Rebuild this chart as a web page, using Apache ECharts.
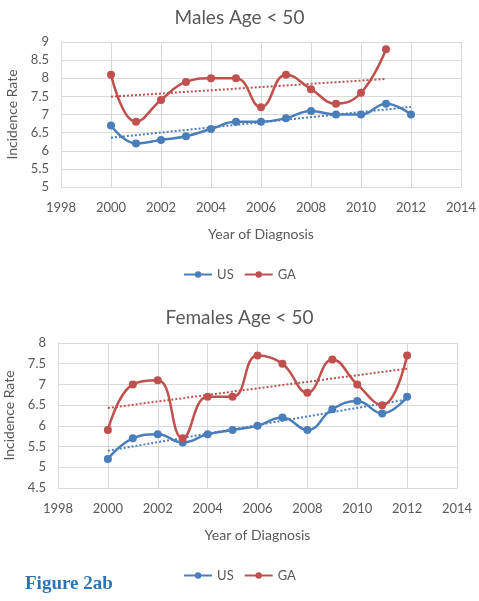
<!DOCTYPE html>
<html><head><meta charset="utf-8">
<script src="https://cdn.jsdelivr.net/npm/echarts@6/dist/echarts.min.js"></script>
<style>html,body{margin:0;padding:0;background:#fff}#c{width:479px;height:601px}</style>
</head><body><div id="c"></div>
<script>
const years = [2000,2001,2002,2003,2004,2005,2006,2007,2008,2009,2010,2011,2012];
const maleUS = [6.7,6.2,6.3,6.4,6.6,6.8,6.8,6.9,7.1,7.0,7.0,7.3,7.0];
const maleGA = [8.1,6.8,7.4,7.9,8.0,8.0,7.2,8.1,7.7,7.3,7.6,8.8];
const femaleUS = [5.2,5.7,5.8,5.6,5.8,5.9,6.0,6.2,5.9,6.4,6.6,6.3,6.7];
const femaleGA = [5.9,7.0,7.1,5.7,6.7,6.7,7.7,7.5,6.8,7.6,7.0,6.5,7.7];
// trendline endpoints: [year, value]
const maleUSTrend = [[2000,6.36],[2012,7.21]];
const maleGATrend = [[2000,7.49],[2011,7.98]];
const femaleUSTrend = [[2000,5.40],[2012,6.64]];
const femaleGATrend = [[2000,6.43],[2012,7.38]];
const titles = ['Males Age < 50','Females Age < 50'];
const xName = 'Year of Diagnosis';
const yName = 'Incidence Rate';

const BLUE = '#4a7ebb', RED = '#c0504d', GRAY = '#595959', GRID = '#d9d9d9';
const FONT = 'Lato';
const pair = (xs, ys) => ys.map((v,i)=>[xs[i], v]);

function xAxis(gi){
  return {type:'value', gridIndex:gi, min:1998, max:2014, interval:2,
    name:xName, nameLocation:'middle', nameGap:40,
    nameTextStyle:{color:GRAY, fontSize:14, fontFamily:FONT},
    axisLine:{show:true, lineStyle:{color:GRID}}, axisTick:{show:false},
    splitLine:{show:true, lineStyle:{color:GRID}},
    axisLabel:{color:GRAY, fontSize:13, fontFamily:FONT, margin:14, formatter:v=>String(v)}};
}
function yAxis(gi, min, max, gap){
  return {type:'value', gridIndex:gi, min:min, max:max, interval:0.5,
    name:yName, nameLocation:'middle', nameGap:gap,
    nameTextStyle:{color:GRAY, fontSize:14, fontFamily:FONT},
    axisLine:{show:true, lineStyle:{color:GRID}}, axisTick:{show:false},
    splitLine:{show:true, lineStyle:{color:GRID}},
    axisLabel:{color:GRAY, fontSize:13, fontFamily:FONT, margin:12, formatter:v=>String(v)}};
}
function dataSeries(name, color, data, gi){
  return {name:name, type:'line', xAxisIndex:gi, yAxisIndex:gi, data:data, smooth:0.45,
    symbol:'circle', symbolSize:8, itemStyle:{color:color},
    lineStyle:{color:color, width:2.5}, z:3};
}
function trend(color, data, gi){
  return {name:'trend', type:'line', xAxisIndex:gi, yAxisIndex:gi, data:data, symbol:'none',
    lineStyle:{color:color, width:2, type:[2,2]}, z:2, silent:true};
}
function legend(top){
  return {top:top, left:'center', data:['US','GA'], itemWidth:28, itemHeight:8, itemGap:10,
    textStyle:{color:GRAY, fontSize:13, fontFamily:FONT}};
}

const chart = echarts.init(document.getElementById('c'), null, {renderer:'canvas'});
chart.setOption({
  animation:false,
  backgroundColor:'#fff',
  title:[
    {text:titles[0], left:'center', top:3, textStyle:{color:GRAY, fontSize:19, fontWeight:'normal', fontFamily:FONT}},
    {text:titles[1], left:'center', top:303, textStyle:{color:GRAY, fontSize:19, fontWeight:'normal', fontFamily:FONT}}
  ],
  legend:[legend(263), legend(564)],
  grid:[
    {left:61, right:18, top:42, height:145, containLabel:false, outerBoundsMode:'none'},
    {left:58, right:22, top:343, height:145, containLabel:false, outerBoundsMode:'none'}
  ],
  xAxis:[xAxis(0), xAxis(1)],
  yAxis:[yAxis(0,5,9,40), yAxis(1,4.5,8,37)],
  series:[
    trend(BLUE, maleUSTrend, 0),
    trend(RED, maleGATrend, 0),
    dataSeries('US', BLUE, pair(years, maleUS), 0),
    dataSeries('GA', RED, pair(years, maleGA), 0),
    trend(BLUE, femaleUSTrend, 1),
    trend(RED, femaleGATrend, 1),
    dataSeries('US', BLUE, pair(years, femaleUS), 1),
    dataSeries('GA', RED, pair(years, femaleGA), 1)
  ],
  graphic:[
    {type:'text', left:25, top:575, style:{text:'Figure 2ab', fill:'#2e74b5',
      font:'bold 19px "Liberation Serif", serif'}}
  ]
});
</script></body></html>
